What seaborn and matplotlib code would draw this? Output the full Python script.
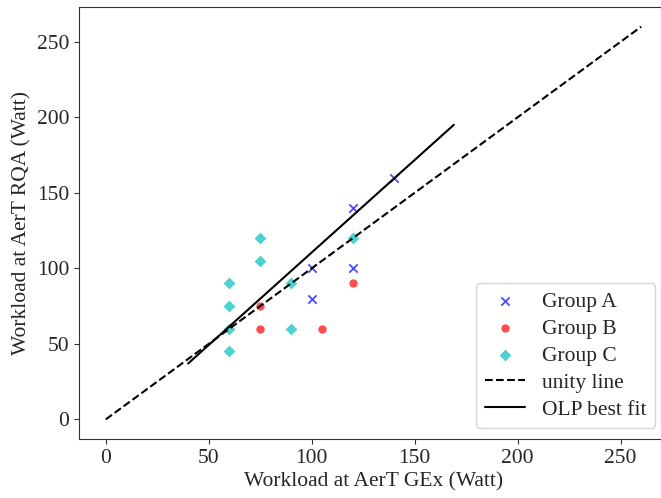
import numpy as np
import pandas as pd
import matplotlib
matplotlib.use("Agg")
import matplotlib.pyplot as plt
import seaborn as sns

# Workload values (Watt)
group_a_gex = [140, 120, 100, 120, 100]
group_a_rqa = [160, 140, 100, 100, 80]

group_b_gex = [75, 75, 105, 120]
group_b_rqa = [75, 60, 60, 90]

group_c_gex = [75, 75, 60, 60, 60, 60, 90, 90, 120]
group_c_rqa = [120, 105, 90, 75, 60, 45, 90, 60, 120]

unity_x = [0, 260]
unity_y = [0, 260]

olp_x = [40, 169]
olp_y = [37, 195]

sns.set_style("ticks")
plt.rcParams["font.family"] = ["Liberation Serif", "DejaVu Serif"]
plt.rcParams["font.size"] = 15.5

df = pd.DataFrame({
    "gex": group_a_gex + group_b_gex + group_c_gex,
    "rqa": group_a_rqa + group_b_rqa + group_c_rqa,
    "group": ["Group A"] * len(group_a_gex) + ["Group B"] * len(group_b_gex)
             + ["Group C"] * len(group_c_gex),
})

fig = plt.figure(figsize=(6.61, 4.98), dpi=100)
# axes run a bit past the right edge, as in the cropped original
ax = fig.add_axes([79 / 661, 59 / 498, 589 / 661, 432 / 498])

colours = {"Group A": "b", "Group B": "r", "Group C": "c"}
markers = {"Group A": "x", "Group B": "o", "Group C": "D"}
for name, sub in df.groupby("group"):
    sns.scatterplot(data=sub, x="gex", y="rqa", ax=ax, color=colours[name],
                    marker=markers[name], s=36, alpha=0.7,
                    linewidth=1.3 if name == "Group A" else 0, label=name)

ax.plot(unity_x, unity_y, color="black", linestyle="--", linewidth=1.5, label="unity line")
ax.plot(olp_x, olp_y, color="black", linestyle="-", linewidth=1.5, label="OLP best fit")

ax.set_xlim(-13, 273)
ax.set_ylim(-13, 273)
ax.set_xticks([0, 50, 100, 150, 200, 250])
ax.set_yticks([0, 50, 100, 150, 200, 250])
ax.tick_params(labelsize=15.5, color="#333333")
for sp in ax.spines.values():
    sp.set_color("#333333")
ax.set_xlabel("Workload at AerT GEx (Watt)", fontsize=15.5, labelpad=3)
ax.set_ylabel("Workload at AerT RQA (Watt)", fontsize=15.5)

ax.legend(loc="lower right", fontsize=15.5, borderaxespad=0,
          bbox_to_anchor=(0.978, 0.025), labelspacing=0.32, handlelength=1.85)

fig.savefig("out.png", dpi=100)
